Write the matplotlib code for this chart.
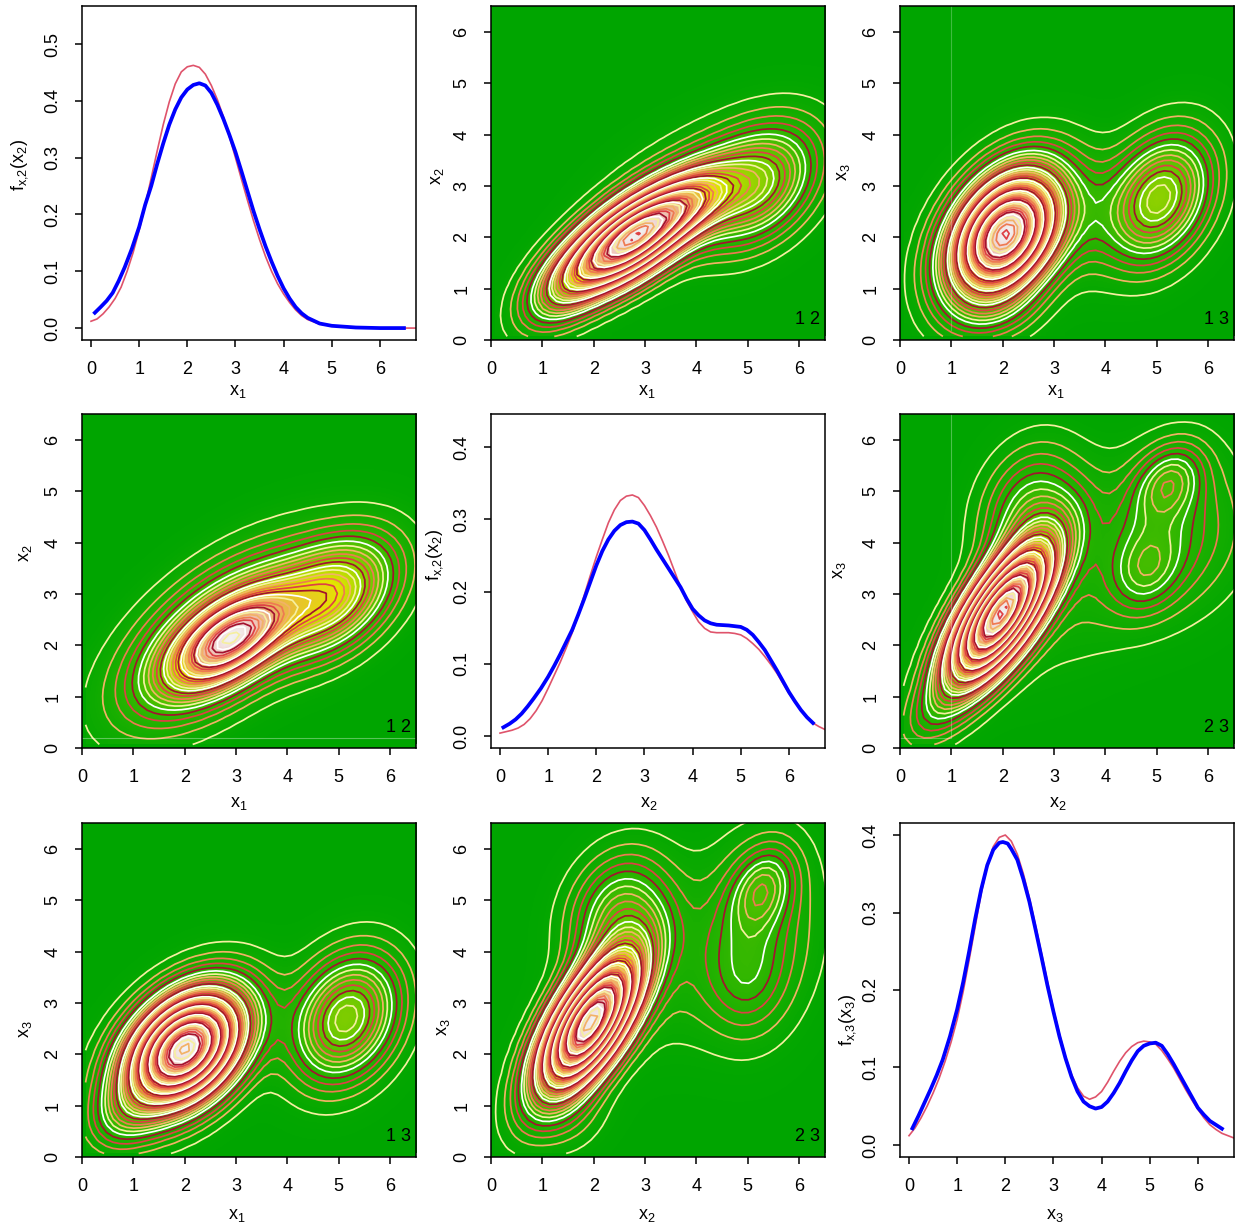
import colorsys
import numpy as np
import matplotlib
matplotlib.use('Agg')
import matplotlib.pyplot as plt
from matplotlib.colors import LinearSegmentedColormap

plt.rcParams['font.family'] = ['Liberation Sans', 'DejaVu Sans']
plt.rcParams['mathtext.fontset'] = 'custom'
plt.rcParams['mathtext.rm'] = 'Liberation Sans'
plt.rcParams['mathtext.default'] = 'regular'

# univariate curves: red = true density, blue = estimate
x1_red_x = [0, .125, .25, .375, .5, .625, .75, .875, 1, 1.125, 1.25, 1.375, 1.5, 1.625, 1.75, 1.875, 2, 2.125, 2.25, 2.375, 2.5, 2.625, 2.75, 2.875, 3, 3.125, 3.25, 3.375, 3.5, 3.625, 3.75, 3.875, 4, 4.125, 4.25, 4.375, 4.5, 4.75, 5, 5.5, 6, 6.75]
x1_red_y = [.012, .016, .025, .037, .052, .072, .1, .133, .172, .216, .264, .312, .358, .398, .43, .451, .46, .4625, .459, .447, .427, .402, .372, .337, .3, .262, .225, .189, .156, .126, .1, .078, .06, .045, .032, .022, .015, .007, .004, .0005, 0, 0]
x1_blue_x = [.08, .2, .325, .45, .575, .7, .85, 1, 1.125, 1.25, 1.375, 1.5, 1.625, 1.75, 1.875, 2, 2.125, 2.25, 2.375, 2.5, 2.625, 2.75, 2.875, 3, 3.125, 3.25, 3.375, 3.5, 3.625, 3.75, 3.875, 4, 4.125, 4.25, 4.375, 4.5, 4.75, 5, 5.5, 6, 6.5]
x1_blue_y = [.027, .037, .048, .062, .083, .107, .14, .178, .217, .25, .289, .325, .358, .385, .406, .42, .428, .431, .427, .414, .393, .368, .34, .31, .276, .241, .206, .174, .144, .117, .092, .07, .052, .037, .026, .018, .008, .004, .001, 0, 0]

x2_red_x = [0, .125, .25, .375, .5, .625, .75, .875, 1, 1.125, 1.25, 1.375, 1.5, 1.625, 1.75, 1.875, 2, 2.125, 2.25, 2.375, 2.5, 2.625, 2.75, 2.875, 3, 3.125, 3.25, 3.375, 3.5, 3.625, 3.75, 3.875, 4, 4.125, 4.25, 4.375, 4.5, 4.625, 4.75, 4.875, 5, 5.125, 5.25, 5.375, 5.5, 5.625, 5.75, 5.875, 6, 6.125, 6.25, 6.375, 6.5, 6.625, 6.75]
x2_red_y = [.004, .006, .008, .011, .016, .024, .035, .049, .066, .084, .102, .122, .143, .168, .195, .222, .248, .272, .295, .313, .326, .332, .3336, .33, .319, .305, .289, .27, .25, .228, .206, .187, .172, .158, .149, .144, .143, .143, .143, .142, .14, .135, .128, .12, .11, .099, .087, .073, .059, .047, .036, .026, .018, .013, .009]
x2_blue_x = [.07, .2, .325, .45, .575, .7, .85, 1, 1.125, 1.25, 1.375, 1.5, 1.625, 1.75, 1.875, 2, 2.125, 2.25, 2.375, 2.5, 2.625, 2.75, 2.875, 3, 3.125, 3.25, 3.375, 3.5, 3.625, 3.75, 3.875, 4, 4.125, 4.25, 4.375, 4.5, 4.75, 4.875, 5, 5.125, 5.25, 5.375, 5.5, 5.625, 5.75, 5.875, 6, 6.125, 6.25, 6.375, 6.5]
x2_blue_y = [.012, .017, .023, .031, .041, .052, .066, .082, .097, .113, .13, .147, .168, .19, .213, .236, .256, .272, .284, .292, .296, .2968, .294, .285, .272, .258, .245, .232, .219, .206, .19, .176, .167, .16, .156, .154, .153, .152, .151, .147, .14, .13, .119, .105, .091, .076, .061, .048, .036, .026, .018]

x3_red_x = [0, .125, .25, .375, .5, .625, .75, .875, 1, 1.125, 1.25, 1.375, 1.5, 1.625, 1.75, 1.875, 2, 2.125, 2.25, 2.375, 2.5, 2.625, 2.75, 2.875, 3, 3.125, 3.25, 3.375, 3.5, 3.625, 3.75, 3.875, 4, 4.125, 4.25, 4.375, 4.5, 4.625, 4.75, 4.875, 5, 5.125, 5.25, 5.375, 5.5, 5.625, 5.75, 5.875, 6, 6.125, 6.25, 6.375, 6.5, 6.625, 6.75]
x3_red_y = [.012, .022, .035, .05, .067, .086, .108, .133, .162, .198, .239, .282, .325, .36, .385, .397, .4, .392, .375, .35, .319, .284, .248, .211, .175, .143, .114, .091, .074, .063, .059, .062, .069, .081, .095, .108, .119, .127, .132, .134, .133, .13, .122, .111, .099, .085, .071, .058, .046, .035, .026, .02, .015, .012, .009]
x3_blue_x = [.07, .2, .325, .45, .575, .7, .85, 1, 1.125, 1.25, 1.375, 1.5, 1.625, 1.75, 1.875, 1.95, 2.05, 2.125, 2.25, 2.375, 2.5, 2.625, 2.75, 2.875, 3, 3.125, 3.25, 3.375, 3.5, 3.625, 3.75, 3.875, 4, 4.125, 4.25, 4.375, 4.5, 4.625, 4.75, 4.875, 5, 5.125, 5.25, 5.375, 5.5, 5.625, 5.75, 5.875, 6, 6.125, 6.25, 6.375, 6.5]
x3_blue_y = [.0215, .038, .055, .072, .09, .11, .14, .175, .21, .25, .292, .33, .361, .381, .39, .391, .389, .382, .368, .343, .314, .279, .243, .206, .172, .14, .112, .088, .069, .056, .05, .047, .049, .056, .067, .08, .095, .109, .121, .128, .131, .132, .128, .117, .104, .09, .076, .062, .048, .039, .031, .026, .021]

# normal mixture components seen in the contour panels: weight, mean x, mean y, sd x, sd y, rho
upper_12 = [(.5, 2.7, 1.95, .85, .68, .68), (.18, 5.2, 3.0, .75, .75, .35), (.05, 1.4, 1.0, .55, .55, .5), (.07, 3.9, 2.7, .6, .5, .5), (.1, 4.2, 3.0, 1.25, .9, .45)]
upper_13 = [(.71, 2.05, 2.05, .72, .84, .38), (.226, 5.05, 2.75, .67, .82, .3), (.024, 3.7, 2.4, .5, .8, .2), (.012, 1.9, .5, .6, .4, .2)]
upper_23 = [(.62, 1.95, 2.6, .68, .92, .72), (.12, 2.55, 4.6, .65, .85, .2), (.04, 5.25, 5.2, .45, .5, .3), (.03, 4.8, 3.45, .45, .55, .2), (.15, 5.2, 4.2, 1.0, 1.05, .1), (.07, 3.5, 2.9, 1.3, 1.2, .5), (.015, .6, .6, .5, .5, .5)]
lower_12 = [(.22, 2.9, 2.1, .75, .6, .6), (.24, 4.9, 2.95, .8, .75, .4), (.38, 2.7, 2.2, 1.2, 1.05, .6)]
lower_13 = [(.74, 2.0, 2.1, .76, .76, .4), (.236, 5.15, 2.7, .69, .82, .25), (.03, .8, .8, .5, .5, .3)]
lower_23 = [(.615, 1.92, 2.6, .66, .92, .68), (.13, 2.5, 4.75, .65, .8, .2), (.04, 5.3, 5.25, .42, .55, .3), (.025, 5.0, 3.4, .5, .7, .05), (.12, 5.15, 4.3, .8, 1.3, .1), (.08, 3.7, 3.6, 1.4, 1.2, .5), (.012, 1.6, .7, .5, .5, .2)]

level_step = 0.005
contour_cols = ['#F6EFA0', '#F2B266', '#EE7A52', '#DE4045', '#A3122F', '#FFFFFF']

# page layout in pixels
FIG_W, FIG_H = 1235, 1226
col_left = [82, 491, 900]
row_top = [6, 414, 823]
PANEL = 334

xlabel_pos = [(238, 391), (647, 391), (1056, 391), (239, 803), (649, 803), (1058, 803), (237, 1215), (647, 1215), (1055, 1215)]
ylabel_pos = [(20, 165), (437, 176), (843, 172), (26, 553), (435, 555), (839, 570), (26, 1029), (444, 1027), (848, 1020)]
x_labels = ['$x_1$', '$x_1$', '$x_1$', '$x_1$', '$x_2$', '$x_2$', '$x_1$', '$x_2$', '$x_3$']
y_labels = ['$f_{x{,}2}(x_2)$', '$x_2$', '$x_3$', '$x_2$', '$f_{x{,}2}(x_2)$', '$x_3$', '$x_3$', '$x_3$', '$f_{x{,}3}(x_3)$']


def terrain_cmap():
    cols = []
    for t in np.linspace(0, 1, 41):
        if t <= .5:
            cols.append(colorsys.hsv_to_rgb((4 - 4 * t) / 12, 1, .65 + .5 * t))
        else:
            cols.append(colorsys.hsv_to_rgb((2 - 2 * (2 * t - 1)) / 12, 1 - (2 * t - 1), .9 + .05 * (2 * t - 1)))
    return LinearSegmentedColormap.from_list('terrain_r', cols)


def mix_density(comps, xx, yy):
    z = np.zeros_like(xx)
    for w, mx, my, sx, sy, rho in comps:
        a = (xx - mx) / sx
        b = (yy - my) / sy
        q = (a * a - 2 * rho * a * b + b * b) / (1 - rho * rho)
        z += w * np.exp(-q / 2) / (2 * np.pi * sx * sy * np.sqrt(1 - rho * rho))
    return z


def style_axes(ax):
    for s in ax.spines.values():
        s.set_linewidth(1.1)
        s.set_color('black')
    ax.tick_params(length=5.2, width=1.1, color='black', labelsize=13)
    ax.tick_params(axis='x', pad=10)
    ax.tick_params(axis='y', pad=9.5)
    for t in ax.get_yticklabels():
        t.set_rotation(90)
        t.set_va('center')


def contour_panel(ax, comps, tag, faint=None):
    grid = np.linspace(.07, 6.62, 50)
    xx, yy = np.meshgrid(grid, grid)
    z = mix_density(comps, xx, yy)
    ax.set_facecolor('#00A600')
    ax.imshow(z, origin='lower', extent=(grid[0], grid[-1], grid[0], grid[-1]), cmap=cmap,
              vmin=0, vmax=z.max(), interpolation='bilinear', aspect='auto')
    levels = np.arange(1, int(z.max() / level_step) + 1) * level_step
    colors = [contour_cols[i % 6] for i in range(len(levels))]
    ax.contour(xx, yy, z, levels=levels, colors=colors, linewidths=1.25)
    ax.set_xlim(0, 6.507)
    ax.set_ylim(0, 6.507)
    ax.set_xticks(range(7))
    ax.set_yticks(range(7))
    if faint == 'v':
        ax.plot([1, 1], [.2, 6.5], color='white', alpha=.25, lw=.8)
    if faint == 'h':
        ax.plot([0, 6.5], [.2, .2], color='white', alpha=.35, lw=.8)
    if faint == 'vh':
        ax.plot([1, 1, 0], [6.5, .2, .2], color='white', alpha=.3, lw=.8)
    ax.text(.985, .035, tag, transform=ax.transAxes, ha='right', va='bottom', fontsize=13)


def curve_panel(ax, rx, ry, bx, by, ylim, yticks):
    ax.plot(rx, ry, color='#DF536B', lw=1.2)
    ax.plot(bx, by, color='#0000FF', lw=2.7)
    ax.set_xlim(-.187, 6.75)
    ax.set_ylim(*ylim)
    ax.set_xticks(range(7))
    ax.set_yticks(yticks)
    ax.set_yticklabels(['%.1f' % v for v in yticks])


cmap = terrain_cmap()
fig = plt.figure(figsize=(FIG_W / 100, FIG_H / 100), dpi=100)
axes = []
for r in range(3):
    for c in range(3):
        axes.append(fig.add_axes([col_left[c] / FIG_W, 1 - (row_top[r] + PANEL) / FIG_H, PANEL / FIG_W, PANEL / FIG_H]))

curve_panel(axes[0], x1_red_x, x1_red_y, x1_blue_x, x1_blue_y, (-.021, .567), [0, .1, .2, .3, .4, .5])
contour_panel(axes[1], upper_12, '1 2')
contour_panel(axes[2], upper_13, '1 3', faint='v')
contour_panel(axes[3], lower_12, '1 2', faint='h')
curve_panel(axes[4], x2_red_x, x2_red_y, x2_blue_x, x2_blue_y, (-.0166, .4457), [0, .1, .2, .3, .4])
contour_panel(axes[5], upper_23, '2 3', faint='vh')
contour_panel(axes[6], lower_13, '1 3')
contour_panel(axes[7], lower_23, '2 3')
curve_panel(axes[8], x3_red_x, x3_red_y, x3_blue_x, x3_blue_y, (-.0155, .4155), [0, .1, .2, .3, .4])

for i, ax in enumerate(axes):
    style_axes(ax)
    fig.text(xlabel_pos[i][0] / FIG_W, 1 - xlabel_pos[i][1] / FIG_H, x_labels[i], ha='center', va='center', fontsize=13)
    fig.text(ylabel_pos[i][0] / FIG_W, 1 - ylabel_pos[i][1] / FIG_H, y_labels[i], ha='center', va='center', rotation=90, fontsize=13)

fig.savefig('out.png', dpi=100)
